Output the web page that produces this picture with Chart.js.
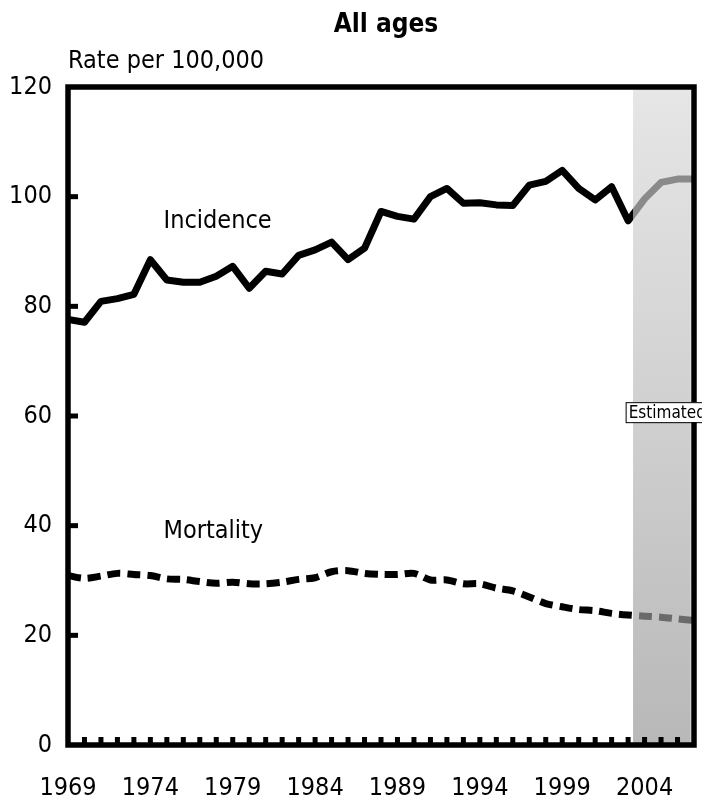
<!DOCTYPE html>
<html>
<head>
<meta charset="utf-8">
<title>All ages</title>
<script src="https://cdn.jsdelivr.net/npm/chart.js@4.4.1/dist/chart.umd.min.js"></script>
<style>
  html, body { margin: 0; padding: 0; background: #fff; }
  canvas { display: block; }
</style>
</head>
<body>
<canvas id="rateChart" width="702" height="805"></canvas>
<script>
// ---- data ----
const years = [1969, 1970, 1971, 1972, 1973, 1974, 1975, 1976, 1977, 1978,
  1979, 1980, 1981, 1982, 1983, 1984, 1985, 1986, 1987, 1988,
  1989, 1990, 1991, 1992, 1993, 1994, 1995, 1996, 1997, 1998,
  1999, 2000, 2001, 2002, 2003];
const estYears = [2004, 2005, 2006, 2007];

const incidence = [77.6, 77.1, 80.9, 81.4, 82.2, 88.5, 84.8, 84.4, 84.4, 85.5,
  87.3, 83.3, 86.4, 85.9, 89.3, 90.3, 91.7, 88.5, 90.6, 97.3,
  96.4, 95.9, 100.0, 101.5, 98.8, 98.9, 98.5, 98.4, 102.1, 102.8,
  104.8, 101.5, 99.4, 101.8, 95.6];
const incidenceEst = [99.6, 102.6, 103.2, 103.2];

const mortality = [30.9, 30.4, 30.8, 31.3, 31.1, 30.9, 30.3, 30.2, 29.8, 29.5,
  29.7, 29.4, 29.4, 29.7, 30.2, 30.5, 31.6, 31.8, 31.3, 31.1,
  31.1, 31.3, 30.1, 30.1, 29.4, 29.4, 28.6, 28.1, 27.0, 25.8,
  25.2, 24.7, 24.5, 24.0, 23.7];
const mortalityEst = [23.5, 23.3, 23.0, 22.7];

const xTickYears = [1969, 1974, 1979, 1984, 1989, 1994, 1999, 2004];
const yTicks = [0, 20, 40, 60, 80, 100, 120];
const shadeStart = 2003.3;
const shadeEnd = 2006.8;

const FONT = '"DejaVu Sans Condensed", "Liberation Sans Narrow", "Liberation Sans", sans-serif';

function toPoints(xs, ys) {
  return xs.map((x, i) => ({ x: x, y: ys[i] }));
}

// black before the shaded band, grey inside it
function splitColor(before, after) {
  return function (ctx) {
    const chart = ctx.chart;
    const area = chart.chartArea;
    if (!area) return before;
    const xs = chart.scales.x.getPixelForValue(shadeStart);
    const f = Math.min(1, Math.max(0, (xs - area.left) / (area.right - area.left)));
    const g = chart.ctx.createLinearGradient(area.left, 0, area.right, 0);
    g.addColorStop(0, before);
    g.addColorStop(f, before);
    g.addColorStop(f, after);
    g.addColorStop(1, after);
    return g;
  };
}

const decor = {
  id: 'decor',
  beforeDatasetsDraw(chart) {
    const { ctx, chartArea: a, scales: { x } } = chart;
    const x0 = x.getPixelForValue(shadeStart);
    const x1 = x.getPixelForValue(shadeEnd);
    const g = ctx.createLinearGradient(0, a.top, 0, a.bottom);
    g.addColorStop(0, '#e6e6e6');
    g.addColorStop(0.5, '#d0d0d0');
    g.addColorStop(1, '#b8b8b8');
    ctx.save();
    ctx.fillStyle = g;
    ctx.fillRect(x0, a.top, x1 - x0, a.bottom - a.top);
    ctx.restore();
  },
  afterDatasetsDraw(chart) {
    const { ctx, chartArea: a, scales: { x, y } } = chart;
    ctx.save();
    ctx.fillStyle = '#000';
    // yearly tick stubs along the bottom, pointing in
    for (let yr = years[0] + 1; yr < estYears[estYears.length - 1]; yr++) {
      const px = x.getPixelForValue(yr);
      ctx.fillRect(px - 2.5, a.bottom - 8, 5, 8);
    }
    // y tick stubs
    yTicks.slice(1, -1).forEach(v => {
      const py = y.getPixelForValue(v);
      ctx.fillRect(a.left, py - 2.5, 10, 5);
    });
    // frame
    ctx.strokeStyle = '#000';
    ctx.lineWidth = 5.5;
    ctx.strokeRect(a.left, a.top, a.right - a.left, a.bottom - a.top);

    // series labels
    ctx.font = '25px ' + FONT;
    ctx.textAlign = 'left';
    ctx.textBaseline = 'middle';
    ctx.fillText('Incidence', x.getPixelForValue(1974.8), y.getPixelForValue(95.5));
    ctx.fillText('Mortality', x.getPixelForValue(1974.8), y.getPixelForValue(39.0));

    // "Estimated" tag
    const bx = x.getPixelForValue(2002.85);
    const by = y.getPixelForValue(60.7);
    ctx.font = '17px ' + FONT;
    ctx.fillStyle = '#fff';
    ctx.fillRect(bx, by - 10, 120, 20);
    ctx.strokeStyle = '#000';
    ctx.lineWidth = 1;
    ctx.strokeRect(bx + 0.5, by - 9.5, 120, 20);
    ctx.fillStyle = '#000';
    ctx.fillText('Estimated', bx + 3, by + 1);
    ctx.restore();
  },
  afterDraw(chart) {
    const { ctx, chartArea: a } = chart;
    ctx.save();
    ctx.fillStyle = '#000';
    ctx.textBaseline = 'alphabetic';
    ctx.font = 'bold 26px ' + FONT;
    ctx.textAlign = 'center';
    ctx.fillText('All ages', 386, 32);
    ctx.font = '25px ' + FONT;
    ctx.textAlign = 'left';
    ctx.fillText('Rate per 100,000', a.left, 68);
    ctx.restore();
  }
};

new Chart(document.getElementById('rateChart'), {
  type: 'line',
  data: {
    datasets: [
      {
        label: 'Incidence',
        data: toPoints(years.concat(estYears), incidence.concat(incidenceEst)),
        borderColor: splitColor('#000', '#8a8a8a'),
        borderWidth: 7,
        borderJoinStyle: 'round',
        borderCapStyle: 'round',
        tension: 0,
        pointRadius: 0,
        fill: false
      },
      {
        label: 'Mortality',
        data: toPoints(years.concat(estYears), mortality.concat(mortalityEst)),
        borderColor: splitColor('#000', '#6a6a6a'),
        borderWidth: 7,
        borderDash: [13, 7],
        tension: 0.3,
        pointRadius: 0,
        fill: false
      }
    ]
  },
  options: {
    responsive: false,
    animation: false,
    devicePixelRatio: 1,
    layout: { padding: { top: 87, right: 8, left: 0, bottom: 0 } },
    plugins: {
      legend: { display: false },
      tooltip: { enabled: false },
      title: { display: false }
    },
    scales: {
      x: {
        type: 'linear',
        min: years[0],
        max: estYears[estYears.length - 1],
        afterBuildTicks: s => { s.ticks = xTickYears.map(v => ({ value: v })); },
        afterFit: s => { s.height = 60; },
        grid: { display: false, drawTicks: false },
        border: { display: false },
        ticks: {
          color: '#000',
          padding: 28,
          maxRotation: 0,
          autoSkip: false,
          font: { family: FONT, size: 25 },
          callback: v => String(v)
        }
      },
      y: {
        min: yTicks[0],
        max: yTicks[yTicks.length - 1],
        afterBuildTicks: s => { s.ticks = yTicks.map(v => ({ value: v })); },
        afterFit: s => { s.width = 68; },
        grid: { display: false, drawTicks: false },
        border: { display: false },
        ticks: {
          color: '#000',
          padding: 16,
          font: { family: FONT, size: 25 }
        }
      }
    }
  },
  plugins: [decor]
});
</script>
</body>
</html>
